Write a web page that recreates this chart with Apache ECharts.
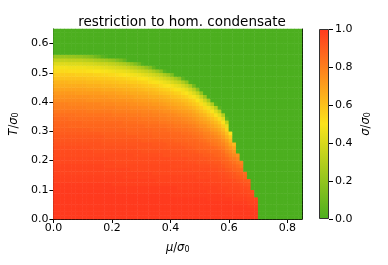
<!DOCTYPE html>
<html><head><meta charset="utf-8">
<script src="https://cdn.jsdelivr.net/npm/echarts@6/dist/echarts.min.js"></script>
<style>html,body{margin:0;padding:0;background:#fff}#c{width:388px;height:265px}</style>
</head><body><div id="c"></div>
<script>
// cell centres of the image grid (mu/sigma0 and T/sigma0)
const muCenters = [0.00625,0.01875,0.03125,0.04375,0.05625,0.06875,0.08125,0.09375,0.10625,0.11875,0.13125,0.14375,0.15625,0.16875,0.18125,0.19375,0.20625,0.21875,0.23125,0.24375,0.25625,0.26875,0.28125,0.29375,0.30625,0.31875,0.33125,0.34375,0.35625,0.36875,0.38125,0.39375,0.40625,0.41875,0.43125,0.44375,0.45625,0.46875,0.48125,0.49375,0.50625,0.51875,0.53125,0.54375,0.55625,0.56875,0.58125,0.59375,0.60625,0.61875,0.63125,0.64375,0.65625,0.66875,0.68125,0.69375,0.70625,0.71875,0.73125,0.74375,0.75625,0.76875,0.78125,0.79375,0.80625,0.81875,0.83125,0.84375];
const tCenters = [0.00625,0.01875,0.03125,0.04375,0.05625,0.06875,0.08125,0.09375,0.10625,0.11875,0.13125,0.14375,0.15625,0.16875,0.18125,0.19375,0.20625,0.21875,0.23125,0.24375,0.25625,0.26875,0.28125,0.29375,0.30625,0.31875,0.33125,0.34375,0.35625,0.36875,0.38125,0.39375,0.40625,0.41875,0.43125,0.44375,0.45625,0.46875,0.48125,0.49375,0.50625,0.51875,0.53125,0.54375,0.55625,0.56875,0.58125,0.59375,0.60625,0.61875,0.63125,0.64375];
// sigma/sigma0 in percent, one row per T (bottom to top), read left to right in mu.
// Each row lists the ordered region; every cell past the end of a row is the green region (0).
const sigmaPct = [
[100,100,100,100,100,100,100,100,100,100, 100,100,100,100,100,100,100,100,100,100, 100,100,100,100,100,100,100,100,100,100, 100,100,100,100,100,100,100,100,100,100, 100,100,100,100,100,100,100,100,100,100, 100,100,100,100,100,100],
[100,100,100,100,100,100,100,100,100,100, 100,100,100,100,100,100,100,100,100,100, 100,100,100,100,100,100,100,100,100,100, 100,100,100,100,100,100,100,100,100,100, 100,100,100,100,100,100,100,100,100,100, 100,100,100,100,100,100],
[100,100,100,100,100,100,100,100,100,100, 100,100,100,100,100,100,100,100,100,100, 100,100,100,100,100,100,100,100,100,100, 100,100,100,100,100,100,100,100,100,100, 100,100,100,100,100,100,100,100,100,100, 100,100,100,100,100,100],
[100,100,100,100,100,100,100,100,100,100, 100,100,100,100,100,100,100,100,100,100, 100,100,100,100,100,100,100,100,100,100, 100,100,100,100,100,100,100,100,100,100, 100,100,100,100,100,100,100,100,100,100, 100,100,100,99,99,99],
[100,100,100,100,100,100,100,100,100,100, 100,100,100,100,100,100,100,100,100,100, 100,100,100,100,100,100,100,100,100,100, 100,100,100,100,100,100,100,100,100,100, 100,100,100,100,100,100,100,100,100, 99,99,99,99, 98,98,98],
[100,100,100,100,100,100,100,100,100,100, 100,100,100,100,100,100,100,100,100,100, 100,100,100,100,100,100,100,100,100,100, 100,100,100,100,100,100,100,100,100,100, 100,100, 99,99,99,99,99,99,99, 98,98,98,98, 97,97,97],
[100,100,100,100,100,100,100,100,100,100, 100,100,100,100,100,100,100,100,100,100, 100,100,100,100,100,100,100,100,100,100, 100,100, 99,99,99,99,99,99,99,99,99,99, 99,99,99,99,99, 98,98,98, 97,97,97, 96,96],
[100,100,100,100,100,100,100,100,100,100, 100,100,100,100,100,100,100, 99,99,99,99,99,99,99,99,99,99, 99,99,99,99,99,99,99,99,99,99, 99,99,99,99,99, 98,98,98,98,98, 97,97,97,97, 96,96, 95,95],
[99,99,99,99,99,99,99,99,99,99, 99,99,99,99,99,99,99,99,99,99, 99,99,99,99,99,99,99,99,99,99, 99,99,99,99, 98,98,98,98,98,98,98,98,98,98, 98, 97,97,97, 96,96,96, 95,95, 94],
[99,99,99,99,99,99,99,99,99,99, 99,99,99,99,99,99, 98,98,98,98,98,98,98,98,98,98, 98,98,98,98,98,98,98,98,98,98, 98,98,98,98,98, 97,97,97,97,97, 96,96,96, 95,95, 94,93,92],
[98,98,98,98,98,98,98,98,98,98, 98,98,98,98,98,98,98,98,98,98, 98,98,98,98,98,98,98,98, 97,97,97,97,97,97,97,97,97,97, 97,97,97,97,97, 96,96,96,96, 95,95, 94,93,92,91,90],
[98,98,98,98,98,98,98,98,98,98, 98,98,98,98,98,98,98,98,98, 97,97,97,97,97,97,97,97,97,97, 97,97,97,97,97,97,97,97,97,97, 96,96,96,96,96,96, 95,95, 94,93,92,91,90,88],
[97,97,97,97,97,97,97,97,97,97, 97,97,97,97,97,97,97,97,97,97, 97,97,97,97,97,97,97, 96,96,96,96,96,96,96,96,96,96, 96,96,96,96,96, 95,95,95, 94,94, 93,92,91,89,88,86],
[97,97,97,97,97,97,97,97,97,97, 97,97,97,97,97,97,97,97,97,97, 97, 96,96,96,96,96,96,96,96,96,96, 96,96,96,96,96,96,96, 95,95,95,95,95, 94,94, 93,93, 91,90,88,87,86],
[97,97,97,97,97,97,97,97,97,97, 97,97,97,97, 96,96,96,96,96,96,96,96,96,96, 96,96,96,96,96,96,96,96, 95,95,95,95,95,95,95,95, 94,94,94, 93,93, 92,91,89,88,87,85,82],
[96,96,96,96,96,96,96,96,96,96, 96,96,96,96,96,96,96, 95,95,95,95,95,95,95,95,95,95, 95,95,95,95,95,95,95,95,95, 94,94,94, 93,93,93, 92,92, 91,91, 89,88,86,84,81,79],
[96,96,96,96,96,96,96,96,96,96, 96,96,96,96,96, 95,95,95,95,95,95,95,95,95,95, 95,95,95,95,95,95,95, 94,94,94,94,94, 93,93,93, 92,92, 91, 90,90, 89,88,86,83,81,78],
[95,95,95,95,95,95,95,95,95,95, 95,95,95,95,95,95,95,95,95,95, 95,95, 94,94,94,94,94,94,94,94, 93,93,93,93,93, 92,92,92,92,92, 91, 90,90, 89,88,87,86,83,80,77,74],
[95,95,95,95,95,95,95,95,95,95, 95, 94,94,94,94,94,94,94,94,94,94, 94,94,94, 93,93,93,93,93,93,93,93, 92,92,92,92,92, 91,91, 90, 89,89, 88, 87,87, 86,84,80,77,73],
[94,94,94,94,94,94,94,94,94,94, 93,93,93,93,93,93,93,93,93,93, 93,93,93, 92,92,92,92,92,92,92, 91,91,91,91,91,91, 90,90, 89, 88,88, 87,87, 86,85,83,81,77,73,69],
[93,93,93,93,93,93,93,93,93,93, 93,93,93, 92,92,92,92,92,92,92,92,92,92, 92,92,92,92, 91,91,91,91, 90,90,90,90, 89,89, 88,88, 87,87, 86,85,83,82,80,78,74,68,63],
[92,92,92,92,92,92,92,92,92,92, 92,92,92, 91,91,91,91,91,91,91,91,91,91, 91, 90,90,90,90,90,90, 89,89,89, 88,88,88, 87,87,87, 86,85,84,82,81,80,78,75,70,63],
[91,91,91,91,91,91,91,91,91,91, 91,91,91,91, 90,90,90,90,90,90,90,90,90, 89,89,89,89, 88,88,88,88,88, 87,87,87,87, 86,86, 85,84,83,81,80,79,77,75,71,65,58],
[90,90,90,90,90,90,90,90,90,90, 90,90,90, 89,89,89,89,89,89,89, 88,88,88,88,88,88,88, 87,87,87,87,87, 86,86,86, 85,85, 84,83,82,81,79,78,76,74,71,67,60,50],
[89,89,89,89,89,89,89,89,89,89, 88,88,88,88,88,88,88,88,88,88, 87,87,87,87,87,87,87, 86,86,86,86, 85,85, 84,84, 83,83, 82,81,80,78,76,75,72,70,67,62,54],
[88,88,88,88, 87,87,87,87,87,87,87,87,87,87, 87,87,87,87, 86,86,86,86,86,86,86, 85,85,85,85, 84,84, 83,83, 82,82, 81,81, 80,79,77,75,74,71,69,66,63,57,45],
[87,87,87,87,87,87,87,87, 86,86,86,86,86,86,86,86,86,86, 86, 85,85,85,85, 84,84,84, 83,83,83, 82,82, 81,81, 80,80, 79,78,77,76,74,72,70,68,65,62,58,51,33],
[86,86,86,86, 85,85,85,85,85,85,85,85,85,85, 85, 84,84,84,84,84, 83,83,83,83, 82,82,82, 81,81, 80,80, 79,79, 78,78, 77,76,75,73,71,69,67,64,61,57,52,42,5],
[84,84,84,84,84,84, 83,83,83,83,83,83,83,83,83,83, 82,82,82,82,82, 81,81,81, 80,80,80, 79,79, 78,78, 77,77, 76,75,74,73,72,70,68,65,63,59,56,51,43,29],
[82,82,82,82,82,82,82,82,82, 81,81,81,81,81,81,81, 80,80,80,80,80, 79,79,79, 78,78,78, 77,77, 76, 75,75, 74,73,72,71,70,69,67,64,61,58,54,49,42,32],
[80,80,80,80,80,80,80,80,80, 79,79,79,79,79,79,79,79, 78,78,78,78, 77,77,77, 76,76, 75,75, 74,74, 73,72,71,70,69,68,67,65,63,60,57,53,48,41,31,4],
[79,79,79,79, 78,78,78,78,78,78,78,78,78, 77,77,77,77, 76,76,76,76, 75,75, 74,74, 73,73, 72,72, 71,70,69,68,67,66,65,63,61,59,56,52,46,39,28,3],
[76,76,76,76,76,76,76,76,76, 75,75,75,75,75,75,75, 74,74,74,74, 73,73, 72,72, 71,71, 70, 69,69, 68,67,66,65,64,63,61,60,57,55,50,45,37,26],
[74,74,74,74,74,74,74,74,74,74, 73,73,73,73,73, 72,72,72, 71,71,71, 70, 69,69, 68,68, 67, 66,66, 65,64,63,61,60,59,57,55,52,49,44,35,23],
[72,72,72,72,72,72, 71,71,71,71,71,71,71, 70,70,70,70, 69,69, 68,68, 67,67, 66,66, 65,64,63,62,61,60,59,58,56,55,52,50,46,41,34,20],
[69,69,69,69,69,69,69,69,69, 68,68,68,68, 67,67,67,67, 66,66, 65,65, 64,64, 63, 62, 61,61, 60,59,57,56,55,53,51,49,47,44,38,31,18],
[66,66,66,66,66,66,66,66,66, 65,65,65,65, 64,64,64, 63,63, 62,62,62, 61, 60,60, 59,58,57,56,55,53,51,50,48,45,43,39,34,26,11],
[64,64,64,64, 63,63,63,63,63, 62,62,62,62, 61,61,61, 60,60, 59,59, 58, 57,57, 56,55,54,52,51,49,48,46,44,40,37,34,28,20,2],
[60,60,60,60,60,60,60,60,60, 59,59,59, 58,58,58, 57,57, 56,56, 55, 54, 53,53, 51,50,49,47,45,43,41,38,35,31,26,20,5],
[57,57,57,57,57,57, 56,56,56,56,56, 55,55, 54,54, 53,53, 52,51,50,49,48,47,46,44,42,40,38,35,32,27,22,14,1],
[53,53,53,53, 52,52,52,52,52, 51,51, 50,50, 49,49, 48, 47, 46,46, 45,44,42,40,38,36,34,31,27,22,16,4],
[48,48,48,48, 47,47,47,47,47, 46,46, 45,45, 44,43,42,41,40,39,38,36,33,31,28,25,20,15,6],
[42,42,42,42, 41,41,41,41, 40,40, 39,38,37, 36,36, 34,33,31,29,27,24,20,15,10,2],
[34,34,34,34, 33,33,33,33, 32,31,30,28,27,25,24,22,20,16,13,8,1],
[22,22,22,22, 21,21, 20,20, 18,17,15,11,9,4,2],
[], [], [], [], [], [], []
];
const muTicks = [0, 0.2, 0.4, 0.6, 0.8];
const tTicks = [0, 0.1, 0.2, 0.3, 0.4, 0.5, 0.6];
const cbTicks = [0, 0.2, 0.4, 0.6, 0.8, 1.0];

const GREEN = '#4caf1f', YELLOW = '#fbe31b', RED = '#ff3a1e';
const FONT = 'DejaVu Sans';

const cells = [];
tCenters.forEach((t, j) => {
  const row = sigmaPct[j] || [];
  muCenters.forEach((m, i) => cells.push([i, j, i < row.length ? row[i] : 0]));
});

const fmt = v => v.toFixed(1);
const nameRich = {
  i: {fontFamily: FONT, fontSize: 11.5, fontStyle: 'italic', color: '#000'},
  n: {fontFamily: FONT, fontSize: 11.5, color: '#000'},
  s: {fontFamily: FONT, fontSize: 8, color: '#000', verticalAlign: 'bottom', lineHeight: 10}
};
const lbl = {fontFamily: FONT, fontSize: 11, color: '#000'};
const line = {show: true, lineStyle: {color: '#000', width: 1}};

const chart = echarts.init(document.getElementById('c'), null, {renderer: 'canvas'});
chart.setOption({
  animation: false,
  backgroundColor: '#fff',
  title: {
    text: 'restriction to hom. condensate', left: 177, top: 10, textAlign: 'center',
    textStyle: {fontFamily: FONT, fontSize: 13.5, fontWeight: 'normal', color: '#000'}
  },
  grid: [
    {left: 52, top: 29, width: 250, height: 190},
    {left: 319, top: 29, width: 10, height: 190}
  ],
  visualMap: {
    show: false, type: 'continuous', min: 0, max: 100, seriesIndex: 0,
    inRange: {color: [GREEN, YELLOW, RED]}
  },
  xAxis: [
    {type: 'category', gridIndex: 0, data: muCenters, show: false},
    {type: 'value', gridIndex: 0, position: 'bottom', min: 0, max: 0.85,
     axisLine: line, splitLine: {show: false},
     axisTick: {show: true, length: 4, customValues: muTicks, lineStyle: {color: '#000'}},
     axisLabel: Object.assign({customValues: muTicks, formatter: fmt, margin: 4}, lbl),
     name: '{i|μ}{n|/}{i|σ}{s|0}', nameLocation: 'middle', nameGap: 23,
     nameTextStyle: {rich: nameRich}},
    {type: 'value', gridIndex: 0, position: 'top', min: 0, max: 0.85,
     axisLine: line, axisTick: {show: false}, axisLabel: {show: false}, splitLine: {show: false}},
    {type: 'category', gridIndex: 1, data: ['cb'], show: false}
  ],
  yAxis: [
    {type: 'category', gridIndex: 0, data: tCenters, show: false},
    {type: 'value', gridIndex: 0, position: 'left', min: 0, max: 0.65,
     axisLine: line, splitLine: {show: false},
     axisTick: {show: true, length: 4, customValues: tTicks, lineStyle: {color: '#000'}},
     axisLabel: Object.assign({customValues: tTicks, formatter: fmt, margin: 5}, lbl),
     name: '{i|T}{n|/}{i|σ}{s|0}', nameLocation: 'middle', nameGap: 29, nameRotate: 90,
     nameTextStyle: {rich: nameRich}},
    {type: 'value', gridIndex: 0, position: 'right', min: 0, max: 0.65,
     axisLine: line, axisTick: {show: false}, axisLabel: {show: false}, splitLine: {show: false}},
    {type: 'value', gridIndex: 1, position: 'right', min: 0, max: 1, interval: 0.2,
     axisLine: {show: false}, splitLine: {show: false},
     axisTick: {show: true, length: 4, customValues: cbTicks, lineStyle: {color: '#000'}},
     axisLabel: Object.assign({customValues: cbTicks, formatter: fmt, margin: 6}, lbl),
     name: '{i|σ}{n|/}{i|σ}{s|0}', nameLocation: 'middle', nameGap: 31, nameRotate: 90,
     nameTextStyle: {rich: nameRich}}
  ],
  series: [
    {type: 'heatmap', xAxisIndex: 0, yAxisIndex: 0, data: cells, progressive: 0,
     emphasis: {disabled: true}, silent: true},
    {type: 'bar', xAxisIndex: 3, yAxisIndex: 3, data: [1], barWidth: '100%', silent: true,
     itemStyle: {
       color: new echarts.graphic.LinearGradient(0, 1, 0, 0, [
         {offset: 0, color: GREEN}, {offset: 0.5, color: YELLOW}, {offset: 1, color: RED}]),
       borderColor: '#333', borderWidth: 1
     }}
  ]
});
</script></body></html>
